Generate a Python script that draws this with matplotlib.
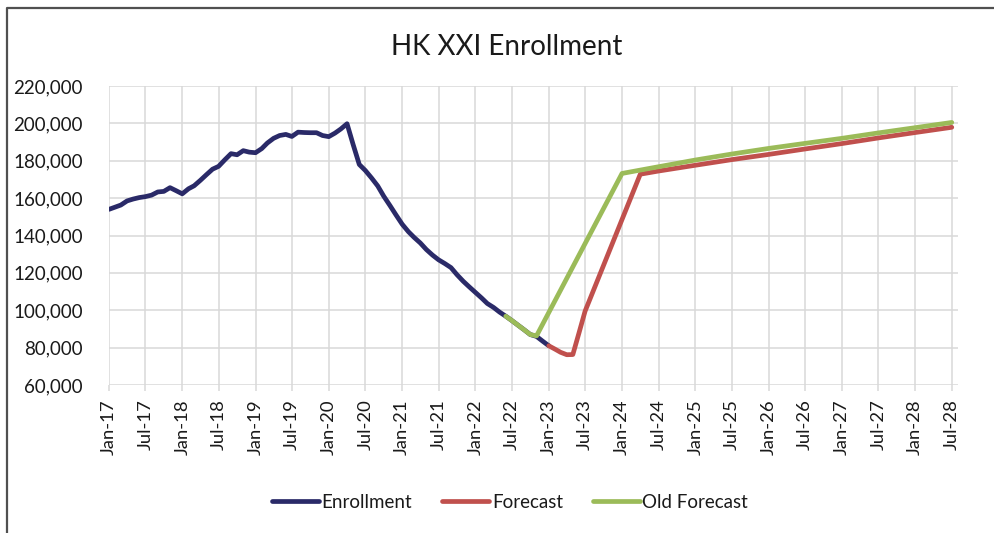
import pandas as pd
import numpy as np
import matplotlib
matplotlib.use('Agg')
import matplotlib.pyplot as plt
import matplotlib.dates as mdates
from matplotlib.ticker import FuncFormatter, MultipleLocator
from matplotlib.lines import Line2D

## HK XXI enrollment chart: actuals plus two forecasts (values in thousands)

enroll_start = '2017-01-01'
enrollment = [154.0, 155.2, 156.3, 158.5, 159.5, 160.3, 160.8, 161.6, 163.3, 163.6, 165.6, 164.0,
              162.3, 165.0, 166.6, 169.5, 172.5, 175.5, 177.0, 180.5, 183.8, 183.2, 185.4, 184.6,
              184.3, 186.5, 189.5, 192.0, 193.5, 194.1, 193.0, 195.3, 195.1, 195.0, 195.0, 193.5,
              192.9, 194.8, 197.0, 199.8, 188.8, 178.0, 174.8, 170.8, 166.5, 161.0, 156.0, 151.0,
              146.0, 142.0, 139.0, 136.0, 132.5, 129.5, 127.0, 125.0, 122.8, 119.0, 115.5, 112.5,
              109.5, 106.5, 103.6, 101.5, 99.0, 96.8, 94.5, 92.0, 89.5, 87.0, 86.0, 83.5,
              81.0]

forecast_dates = ['2023-01-01', '2023-02-01', '2023-03-01', '2023-04-01', '2023-05-01', '2023-06-01',
                  '2023-07-01', '2024-04-01', '2024-07-01', '2025-01-01', '2025-07-01', '2026-01-01',
                  '2026-07-01', '2027-01-01', '2027-07-01', '2028-01-01', '2028-07-01']
forecast = [81.0, 79.2, 77.5, 76.2, 76.3, 88.0,
            99.5, 172.8, 174.5, 177.6, 180.6, 183.4,
            186.3, 189.2, 192.2, 195.1, 197.9]

old_dates = ['2022-06-01', '2022-07-01', '2022-08-01', '2022-09-01', '2022-10-01', '2022-11-01',
             '2024-01-01', '2024-07-01', '2025-01-01', '2025-07-01', '2026-01-01', '2026-07-01',
             '2027-01-01', '2027-07-01', '2028-01-01', '2028-07-01']
old_forecast = [96.8, 94.5, 92.0, 89.5, 87.0, 86.3,
                173.2, 176.8, 180.4, 183.6, 186.6, 189.3,
                192.0, 194.9, 197.7, 200.5]

series_names = ['Enrollment', 'Forecast', 'Old Forecast']
colors = ['#2a2a68', '#c0504d', '#9bbb59']

# build the x values
enroll_x = pd.date_range(enroll_start, periods=len(enrollment), freq='MS')
fc_x = pd.to_datetime(forecast_dates)
old_x = pd.to_datetime(old_dates)

plt.rcParams['font.family'] = ['Lato', 'DejaVu Sans']

fig = plt.figure(figsize=(9.94, 5.33), dpi=100)
ax = fig.add_axes([109 / 994, 1 - 385 / 533, (958 - 109) / 994, (385 - 86) / 533])

lw = 3.4
ax.plot(enroll_x, np.array(enrollment) * 1000, color=colors[0], lw=lw, label=series_names[0],
        solid_joinstyle='round', solid_capstyle='round', zorder=3)
ax.plot(fc_x, np.array(forecast) * 1000, color=colors[1], lw=lw, label=series_names[1],
        solid_joinstyle='round', solid_capstyle='round', zorder=4)
ax.plot(old_x, np.array(old_forecast) * 1000, color=colors[2], lw=lw, label=series_names[2],
        solid_joinstyle='round', solid_capstyle='round', zorder=5)

# axes
ax.set_ylim(60000, 220000)
ax.set_xlim(pd.Timestamp('2017-01-01'), pd.Timestamp('2028-08-01'))
ax.yaxis.set_major_locator(MultipleLocator(20000))
ax.yaxis.set_major_formatter(FuncFormatter(lambda v, p: f'{int(v):,}'))
ticks = pd.date_range('2017-01-01', '2028-07-01', freq='6MS')
ax.set_xticks(ticks)
ax.xaxis.set_major_formatter(mdates.DateFormatter('%b-%y'))

ax.grid(True, color='#d9d9d9', lw=1.1, zorder=0)
ax.set_axisbelow(True)
for s in ax.spines.values():
    s.set_visible(False)
ax.tick_params(axis='y', length=0, pad=19, labelsize=13.5, labelcolor='#1a1a1a')
ax.tick_params(axis='x', length=4.5, width=1.1, color='#d9d9d9', pad=6, labelsize=13.3,
               labelcolor='#1a1a1a', labelrotation=90)

fig.text(507 / 994, 1 - 47 / 533, 'HK XXI Enrollment', ha='center', va='center',
         fontsize=20, color='#1a1a1a')

leg = fig.legend(loc='center', bbox_to_anchor=(510 / 994, 1 - 502 / 533), ncol=3, frameon=False,
                 fontsize=13.5, handlelength=2.5, handletextpad=0.15, columnspacing=1.6)
for t in leg.get_texts():
    t.set_color('#1a1a1a')

# outer chart border (top and left only are visible)
bx = 7 / 994
by = 1 - 8 / 533
fig.add_artist(Line2D([bx, bx, 1.0], [0.0, by, by], transform=fig.transFigure,
                      color='#505050', lw=1.6))

fig.savefig('out.png', dpi=100)
